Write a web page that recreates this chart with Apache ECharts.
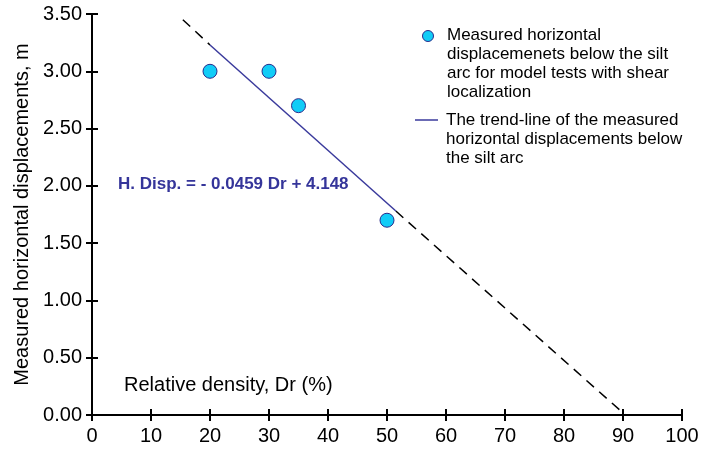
<!DOCTYPE html>
<html>
<head>
<meta charset="utf-8">
<script src="https://cdn.jsdelivr.net/npm/echarts@6/dist/echarts.min.js"></script>
<style>
  html, body { margin: 0; padding: 0; background: #fff; }
  #chart { width: 715px; height: 451px; }
</style>
</head>
<body>
<div id="chart"></div>
<script>
// measured points
var dr = [20, 30, 35, 50];
var disp = [3.0, 3.0, 2.7, 1.7];
// trend line (solid part)
var trendX = [20, 51.5];
var trendY = [3.23, 1.78];
// dashed extensions of the trend line, before and after the solid part
var extUpX = [15.4, 20];
var extUpY = [3.45, 3.23];
var extDownX = [51.5, 90.4];
var extDownY = [1.78, 0];

var xTicks = [0, 100, 10];
var yTicks = [0, 3.5, 0.5];

function pairs(xs, ys) { return xs.map(function (d, i) { return [d, ys[i]]; }); }

var font = '"Liberation Sans", Arial, sans-serif';
var myChart = echarts.init(document.getElementById('chart'));

// the ticks cross the axis line, so each axis is drawn twice: once with outside ticks, once with inside ticks
function xAx(inside, show) {
    return {
        type: 'value', position: 'bottom', min: xTicks[0], max: xTicks[1], interval: xTicks[2],
        axisLine: { show: show, onZero: false, lineStyle: { color: '#000', width: 2 } },
        axisTick: { show: true, inside: inside, length: 6, lineStyle: { color: '#000', width: 2 } },
        axisLabel: { show: show, margin: 11, color: '#000', fontSize: 20, fontFamily: font },
        splitLine: { show: false }
    };
}
function yAx(inside, show) {
    return {
        type: 'value', position: 'left', min: yTicks[0], max: yTicks[1], interval: yTicks[2],
        name: show ? 'Measured horizontal displacements, m' : '',
        nameLocation: 'middle', nameGap: 58,
        nameTextStyle: { color: '#000', fontSize: 20, fontFamily: font },
        axisLine: { show: show, onZero: false, lineStyle: { color: '#000', width: 2 } },
        axisTick: { show: true, inside: inside, length: 6, lineStyle: { color: '#000', width: 2 } },
        axisLabel: {
            show: show, margin: 10, color: '#000', fontSize: 20, fontFamily: font,
            formatter: function (v) { return v.toFixed(2); }
        },
        splitLine: { show: false }
    };
}

var dashStyle = { color: '#000', width: 1.5, type: [10, 7] };

var option = {
    animation: false,
    grid: { left: 92, right: 33, top: 14, bottom: 36 },
    xAxis: [xAx(false, true), xAx(true, false)],
    yAxis: [yAx(false, true), yAx(true, false)],
    series: [
        { name: 'ext1', type: 'line', data: pairs(extUpX, extUpY), symbol: 'none', lineStyle: dashStyle },
        { name: 'ext2', type: 'line', data: pairs(extDownX, extDownY), symbol: 'none', lineStyle: dashStyle },
        {
            name: 'The trend-line of the measured horizontal displacements below the silt arc',
            type: 'line', data: pairs(trendX, trendY), symbol: 'none',
            lineStyle: { color: '#3a3a9c', width: 1.5 }
        },
        {
            name: 'Measured horizontal displacemenets below the silt arc for model tests with shear localization',
            type: 'scatter', data: pairs(dr, disp), symbolSize: 14, z: 3,
            itemStyle: { color: '#11ccf7', borderColor: '#2a2a8a', borderWidth: 1, opacity: 1 }
        }
    ],
    graphic: [
        { type: 'circle', shape: { cx: 428, cy: 36, r: 5.5 }, style: { fill: '#11ccf7', stroke: '#2a2a8a', lineWidth: 1 } },
        {
            type: 'text', left: 447, top: 26,
            style: {
                text: 'Measured horizontal\ndisplacemenets below the silt\narc for model tests with shear\nlocalization',
                font: '17px ' + font, fill: '#000', lineHeight: 19
            }
        },
        { type: 'line', shape: { x1: 415, y1: 120, x2: 438, y2: 120 }, style: { stroke: '#3a3a9c', lineWidth: 1.5 } },
        {
            type: 'text', left: 446, top: 111,
            style: {
                text: 'The trend-line of the measured\nhorizontal displacements below\nthe silt arc',
                font: '17px ' + font, fill: '#000', lineHeight: 19
            }
        },
        {
            type: 'text', left: 118, top: 176,
            style: { text: 'H. Disp. = - 0.0459 Dr + 4.148', font: 'bold 17px ' + font, fill: '#35359a' }
        },
        {
            type: 'text', left: 124, top: 375,
            style: { text: 'Relative density, Dr (%)', font: '20px ' + font, fill: '#000' }
        }
    ]
};
myChart.setOption(option);
</script>
</body>
</html>
